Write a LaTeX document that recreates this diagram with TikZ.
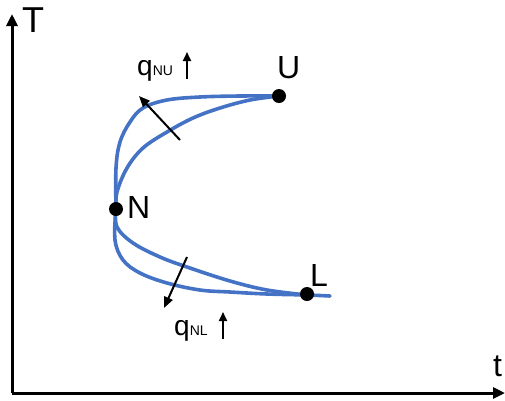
\documentclass[tikz,border=0pt]{standalone}
\usepackage{fontspec}
\setmainfont{Liberation Sans}
\usetikzlibrary{arrows.meta}
\definecolor{curveblue}{HTML}{4472C4}
\begin{document}
\begin{tikzpicture}[x=1pt,y=-1pt,
  axis/.style={line width=3pt,-{Triangle[length=12pt,width=11pt]}},
  curve/.style={curveblue,line width=3.6pt,line cap=round},
  dot/.style={circle,fill=black,inner sep=0pt,minimum size=14pt},
  flux/.style={line width=2pt,-{Triangle[length=11pt,width=9pt]}},
  small/.style={line width=2pt,-{Triangle[length=9pt,width=8pt]}},
  big/.style={font=\fontsize{32}{36}\selectfont,inner sep=0pt,anchor=base west},
  lab/.style={inner sep=0pt,anchor=base west}]
\useasboundingbox (0,0) rectangle (505,400);
% axes
\coordinate (O) at (12,393);
\coordinate (Ty) at (12,14);
\coordinate (Tx) at (505,393);
\draw[axis] (O) -- (Ty);
\draw[axis] (O) -- (Tx);
\node[big,font=\fontsize{36}{40}\selectfont] (T) at (22,32) {T};
\node[big] (tt) at (493,376) {t};
% curves
\draw[curve] plot[smooth,tension=0.6] coordinates {(116,209) (116,168) (120,142) (130,122) (143,108) (167,100) (200,97) (240,96) (279,96)};
\draw[curve] plot[smooth,tension=0.6] coordinates {(116,209) (117,192) (127,168) (143,148) (167,132) (193,118) (220,108) (250,100) (279,96)};
\draw[curve] plot[smooth,tension=0.6] coordinates {(116,209) (115,240) (123,260) (140,273) (167,283) (200,290) (230,292) (267,294) (307,295) (330,296)};
\draw[curve] plot[smooth,tension=0.6] coordinates {(116,209) (117,227) (133,243) (160,257) (187,267) (230,281) (267,290) (307,295)};
% points
\node[dot] (U) at (279,96) {};
\node[dot] (N) at (116,209) {};
\node[dot] (L) at (307,294) {};
\node[big] (Ul) at (277,78) {U};
\node[big] (Nl) at (127,218) {N};
\node[big] (Ll) at (310,286) {L};
% flux arrows
\coordinate (a1s) at (180,140);
\coordinate (a1e) at (139,96);
\draw[flux] (a1s) -- (a1e);
\coordinate (a2s) at (187,257);
\coordinate (a2e) at (164,308);
\draw[flux] (a2s) -- (a2e);
% labels
\node[lab] (qnu) at (137,75) {\fontsize{28}{30}\selectfont q\fontsize{14}{16}\selectfont NU};
\coordinate (u1) at (187,79);
\coordinate (u2) at (187,52);
\draw[small] (u1) -- (u2);
\node[lab] (qnl) at (174,335) {\fontsize{28}{30}\selectfont q\fontsize{14}{16}\selectfont NL};
\coordinate (l1) at (223,339);
\coordinate (l2) at (223,312);
\draw[small] (l1) -- (l2);
\end{tikzpicture}
\end{document}
